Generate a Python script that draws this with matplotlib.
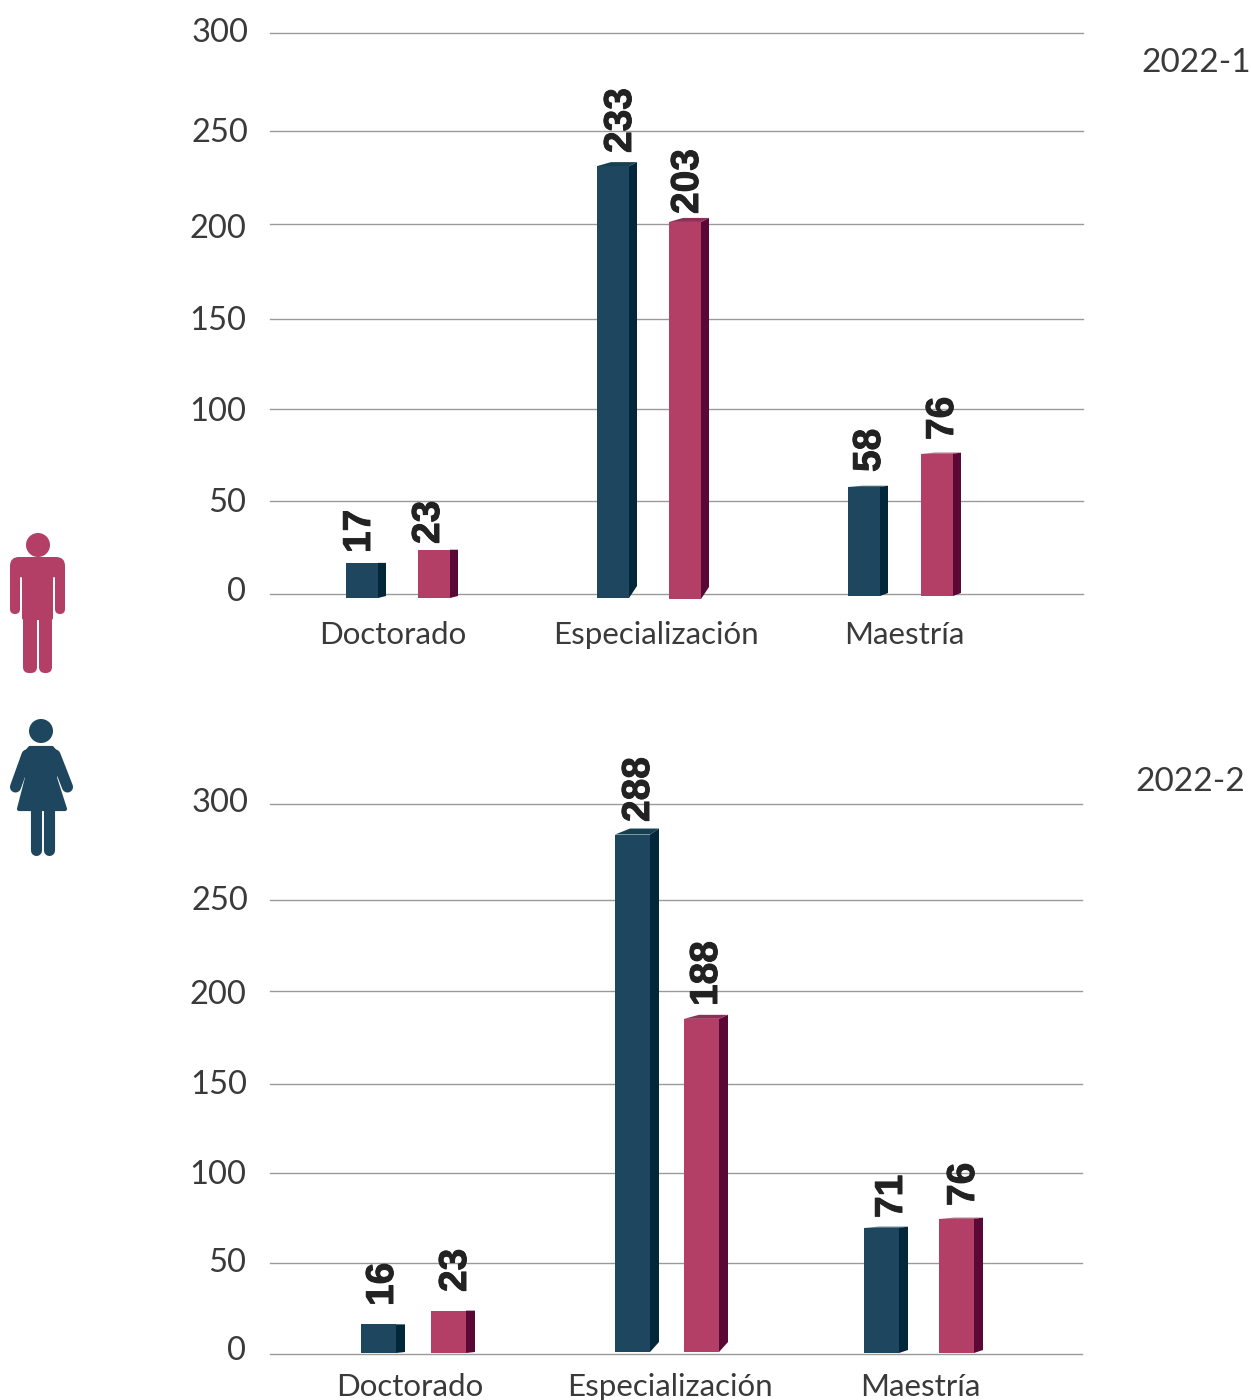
import numpy as np
import matplotlib
matplotlib.use("Agg")
import matplotlib.pyplot as plt
import matplotlib.patheffects as pe
from matplotlib.patches import Polygon, Circle, FancyBboxPatch
from matplotlib.transforms import ScaledTranslation

# Data
categories = ["Doctorado", "Especialización", "Maestría"]
ticks = [0, 50, 100, 150, 200, 250, 300]
men_2022_1 = [17, 233, 58]
women_2022_1 = [23, 203, 76]
men_2022_2 = [16, 288, 71]
women_2022_2 = [23, 188, 76]

NAVY, NAVY_SIDE, NAVY_TOP = "#1e465f", "#02263a", "#163f50"
PINK, PINK_SIDE, PINK_TOP = "#b33e66", "#5a0835", "#8e2f55"
TEXT = "#3a3a3a"
W, H = 1251, 1400

fig = plt.figure(figsize=(W / 100, H / 100), dpi=100)


def draw_panel(navy_vals, pink_vals, lay):
    # the gridlines in the original are not evenly spaced, so the scale follows them
    px = np.array(lay["grid_px"], dtype=float)
    vals = np.array([-50] + ticks + [350], dtype=float)
    knots = np.concatenate([[px[0] + 93], px, [px[-1] - 93]])

    def to_px(v):
        return np.interp(v, vals, knots)

    def to_val(p):
        return np.interp(-np.asarray(p, dtype=float), -knots, vals)

    x0, x1 = lay["x_range"]
    ax = fig.add_axes([x0 / W, 1 - px[0] / H, (x1 - x0) / W, (px[0] - px[-1]) / H])
    ax.set_yscale("function", functions=(lambda v: -to_px(v), lambda u: to_val(-np.asarray(u))))
    ax.set_xlim(x0, x1)
    ax.set_ylim(0, 300)
    ax.patch.set_alpha(0)
    for s in ax.spines.values():
        s.set_visible(False)

    ax.set_yticks(ticks)
    ax.set_yticklabels([str(t) for t in ticks], fontsize=23.5, family="Lato", color=TEXT)
    ax.set_xticks(lay["label_x"])
    ax.set_xticklabels(categories, fontsize=22.5, family="Lato", color=TEXT)
    ax.tick_params(axis="y", length=0, pad=lay["ypad"])
    ax.tick_params(axis="x", length=0, pad=lay["xpad"])
    ax.minorticks_off()
    ax.grid(axis="y", color="#9a9a9a", linewidth=1)
    for line in ax.get_ygridlines():
        line.set_clip_on(False)
    ax.set_axisbelow(True)

    # small hand offsets of the tick labels, in pixels
    for label, (ox, oy) in zip(ax.get_yticklabels(), lay["tick_off"]):
        label.set_transform(label.get_transform() + ScaledTranslation(ox / 100, oy / 100, fig.dpi_scale_trans))

    values = list(navy_vals) + list(pink_vals)
    colors = [(NAVY, NAVY_SIDE, NAVY_TOP)] * 3 + [(PINK, PINK_SIDE, PINK_TOP)] * 3
    for i, v in enumerate(values):
        left = lay["bar_x"][i]
        width = lay["bar_w"]
        dx = lay["depth"]
        base = lay["base_px"][i]
        back_top = to_px(v) + lay["shift"][i]
        front_top = back_top + lay["drop"][i]
        front, side, top = colors[i]
        b_val, f_val = to_val(base), to_val(front_top)
        ax.bar(left, f_val - b_val, width=width, bottom=b_val, align="edge",
               color=front, clip_on=False, zorder=3)
        ax.add_patch(Polygon([(left + width, f_val), (left + width + dx, to_val(back_top)),
                              (left + width + dx, to_val(base - lay["rise"][i])), (left + width, b_val)],
                             closed=True, facecolor=side, edgecolor="none", clip_on=False, zorder=3))
        if lay["drop"][i] > 0:
            ax.add_patch(Polygon([(left, f_val), (left + width, f_val),
                                  (left + width + dx, to_val(back_top)), (left + dx + 6, to_val(back_top))],
                                 closed=True, facecolor=top, edgecolor="none", clip_on=False, zorder=3))
        ax.text(lay["text_x"][i], to_val(lay["text_px"][i]), str(v), rotation=90, ha="center", va="bottom",
                fontsize=28, family="Liberation Sans", weight="bold", color="#222222", clip_on=False, zorder=4,
                path_effects=[pe.withStroke(linewidth=0.7, foreground="#222222")])
    return ax


panel_top = {
    "grid_px": [594.5, 501.5, 409.5, 319.5, 224.5, 131.5, 33.5],
    "x_range": (270, 1083),
    "bar_x": [346, 597, 848, 418, 669, 921],
    "bar_w": 32,
    "depth": 8,
    "base_px": [598, 598, 596, 598, 599, 596],
    "rise": [2, 12, 3, 2, 12, 3],
    "drop": [0, 4, 1, 0, 4, 1],
    "shift": [0, -1, -1, -2, -1, -1],
    "text_x": [360, 621, 870, 429, 688, 943],
    "text_px": [553, 153, 472, 544, 214, 440],
    "label_x": [393, 656, 904],
    "tick_off": [(7, 5), (7, 1), (7, 0), (7, 2), (7, -1), (9, 1), (9, 3)],
    "ypad": 22,
    "xpad": 19,
}
panel_bottom = {
    "grid_px": [1353.5, 1262.5, 1172.5, 1083.5, 990.5, 899.5, 803.5],
    "x_range": (270, 1082),
    "bar_x": [361, 615, 864, 431, 684, 939],
    "bar_w": 35,
    "depth": 9,
    "base_px": [1353, 1352, 1353, 1353, 1352, 1353],
    "rise": [1, 10, 3, 1, 10, 3],
    "drop": [0, 6, 1, 0, 4, 1],
    "shift": [0, 2, 2, -1, 2, 2],
    "text_x": [383, 639, 892, 456, 707, 964],
    "text_px": [1306, 822, 1218, 1292, 1006, 1206],
    "label_x": [410, 670, 920],
    "tick_off": [(7, 5), (7, 2), (7, 0), (8, 2), (7, -1), (9, 1), (9, 3)],
    "ypad": 22,
    "xpad": 14,
}

draw_panel(men_2022_1, women_2022_1, panel_top)
draw_panel(men_2022_2, women_2022_2, panel_bottom)

# Overlay in pixel coordinates for the period labels and the two icons
ov = fig.add_axes([0, 0, 1, 1])
ov.set_xlim(0, W)
ov.set_ylim(H, 0)
ov.axis("off")
ov.patch.set_alpha(0)
ov.text(1141, 63, "2022-1", fontsize=24, family="Lato", color=TEXT, va="center", ha="left")
ov.text(1135, 782, "2022-2", fontsize=24, family="Lato", color=TEXT, va="center", ha="left")


def rbox(x0, y0, x1, y1, r, color):
    ov.add_patch(FancyBboxPatch((x0 + r, y0 + r), x1 - x0 - 2 * r, y1 - y0 - 2 * r,
                                boxstyle=f"round,pad={r},rounding_size={r}",
                                facecolor=color, edgecolor="none"))


# Pink figure
ov.add_patch(Circle((38, 545), 12, facecolor=PINK, edgecolor="none"))
rbox(10, 557, 65, 590, 9, PINK)
rbox(10, 570, 20, 614, 5, PINK)
rbox(55, 570, 65, 614, 5, PINK)
rbox(20, 557, 55, 578, 2, PINK)
rbox(22, 560, 53, 620, 2, PINK)
rbox(23, 600, 37, 673, 6, PINK)
rbox(39, 600, 52, 673, 6, PINK)
# slits between arms and torso
ov.plot([21, 21], [578, 616], color="white", linewidth=1.4, solid_capstyle="round")
ov.plot([54, 54], [578, 616], color="white", linewidth=1.4, solid_capstyle="round")

# Navy figure
ov.add_patch(Circle((41, 731), 12, facecolor=NAVY, edgecolor="none"))
ov.add_patch(Polygon([(30, 748), (52, 748), (58, 755), (55, 778), (65, 809), (19, 809), (27, 778), (24, 755)],
                     closed=True, facecolor=NAVY, edgecolor=NAVY, linewidth=3, joinstyle="round"))
for xs, ys in [((27, 15.5), (755, 787)), ((55, 67.5), (755, 787)),
               ((35.5, 35.5), (810, 850)), ((48.5, 48.5), (810, 850))]:
    ov.plot(xs, ys, color=NAVY, linewidth=8, solid_capstyle="round")

fig.savefig("out.png", dpi=100, facecolor="white")
